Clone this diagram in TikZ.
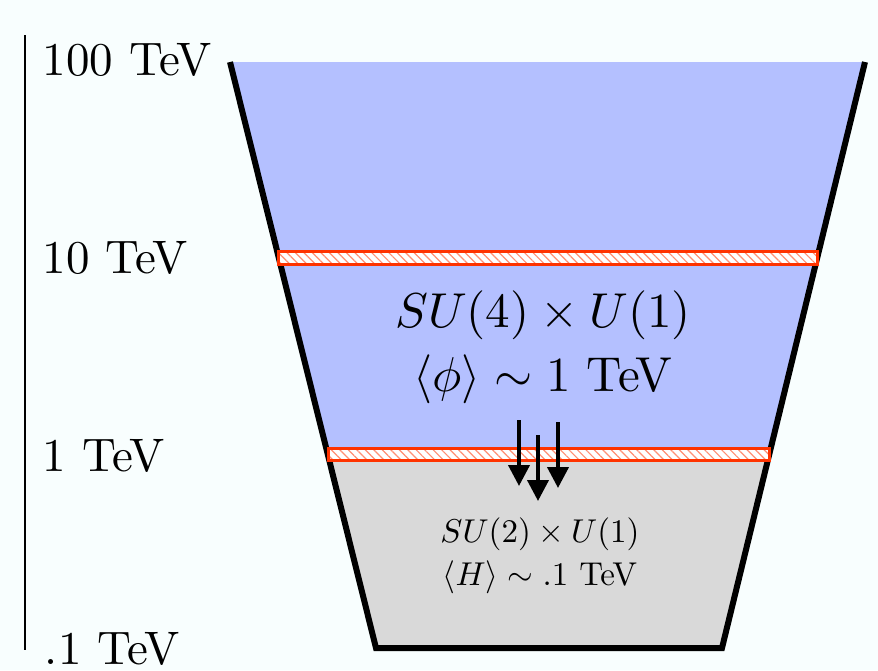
\documentclass[tikz,border=0pt]{standalone}
\usepackage{amsmath}
\usetikzlibrary{patterns.meta,arrows.meta}
\definecolor{bgc}{RGB}{248,254,254}
\definecolor{bluefill}{RGB}{180,192,255}
\definecolor{grayfill}{RGB}{217,217,217}
\definecolor{bandred}{RGB}{255,51,0}
\tikzset{
  scalelabel/.style={anchor=base west,inner sep=0pt,scale=4.7},
  bigtext/.style={anchor=base,inner sep=0pt,scale=4.9},
  smalltext/.style={anchor=base,inner sep=0pt,scale=3.3},
  band/.style={draw=bandred,line width=3pt,preaction={fill=white},
    pattern={Lines[angle=-45,distance=6pt,line width=1.2pt]},pattern color=bandred!55},
  funnelline/.style={line width=6pt,line join=miter},
  flowarrow/.style={line width=4pt,-{Triangle[width=21pt,length=21pt]}}
}
\begin{document}
\begin{tikzpicture}[x=1pt,y=-1pt]
\useasboundingbox (0,0) rectangle (878,670);
\fill[bgc] (0,0) rectangle (878,670);
% corners of funnel
\coordinate (tl) at (230,62);
\coordinate (tr) at (865,62);
\coordinate (bl) at (376,648);
\coordinate (br) at (722,648);
\coordinate (ml) at (328.5,455);
\coordinate (mr) at (769.1,455);
% fills
\fill[bluefill] (tl) -- (tr) -- (mr) -- (ml) -- cycle;
\fill[grayfill] (ml) -- (mr) -- (br) -- (bl) -- cycle;
% funnel outline
\draw[funnelline] (tl) -- (bl) -- (br) -- (tr);
% bands
\path[band] (278.6,251) rectangle (817.8,264);
\path[band] (328.4,448) rectangle (769.6,460);
% axis
\coordinate (axtop) at (25,35);
\coordinate (axbot) at (25,650);
\draw[line width=2pt] (axtop) -- (axbot);
\node[scalelabel] (l100) at (42,75) {100 TeV};
\node[scalelabel] (l10) at (42,273) {10 TeV};
\node[scalelabel] (l1) at (42,471) {1 TeV};
\node[scalelabel] (l01) at (44,664) {.1 TeV};
% texts
\node[bigtext] (g1) at (543,327) {$SU(4)\times U(1)$};
\node[bigtext] (v1) at (543,391) {$\langle\phi\rangle\sim 1$ TeV};
\node[smalltext] (g2) at (540,542) {$SU(2)\times U(1)$};
\node[smalltext] (v2) at (540,585) {$\langle H\rangle\sim .1$ TeV};
% arrows
\coordinate (a1s) at (519,420); \coordinate (a1e) at (519,486);
\coordinate (a2s) at (538,435); \coordinate (a2e) at (538,501);
\coordinate (a3s) at (558,422); \coordinate (a3e) at (558,488);
\draw[flowarrow] (a1s) -- (a1e);
\draw[flowarrow] (a2s) -- (a2e);
\draw[flowarrow] (a3s) -- (a3e);
\end{tikzpicture}
\end{document}
